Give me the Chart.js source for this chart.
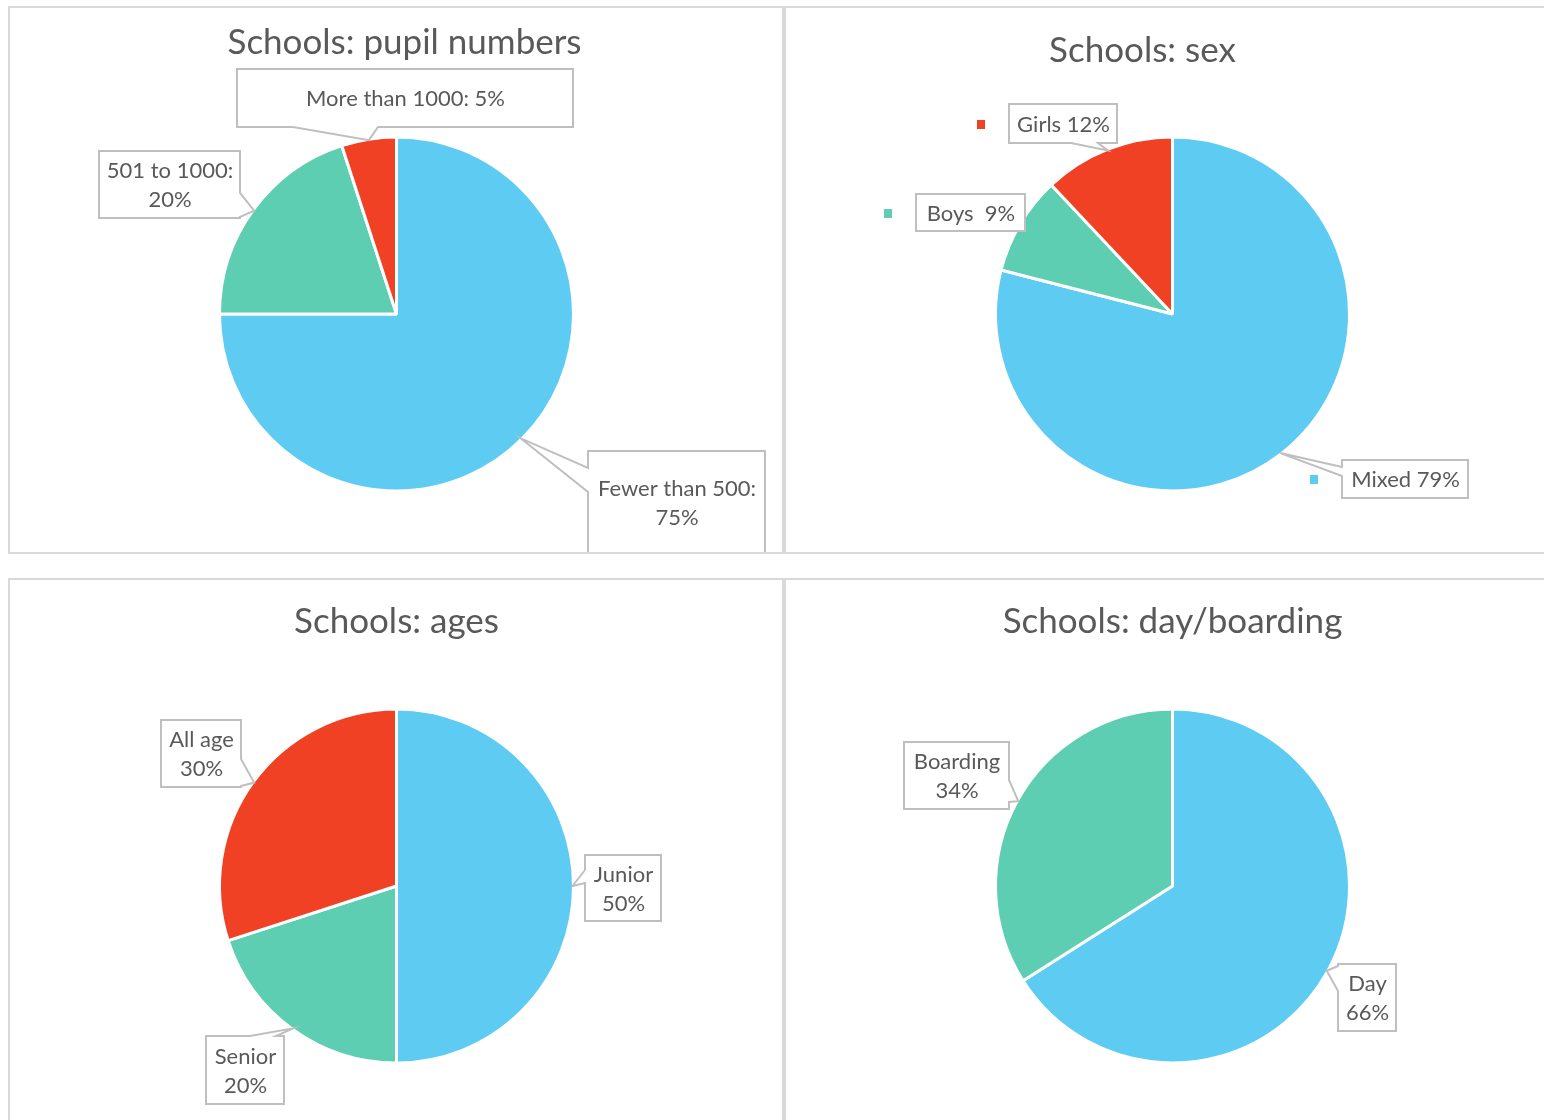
<!DOCTYPE html>
<html>
<head>
<meta charset="utf-8">
<script src="https://cdn.jsdelivr.net/npm/chart.js@4.4.1/dist/chart.umd.min.js"></script>
<style>
  html, body { margin: 0; padding: 0; background: #ffffff; width: 1544px; height: 1120px; overflow: hidden; }
  .panel { position: absolute; box-sizing: border-box; border: 2px solid #d9d9d9; background: #ffffff; }
  canvas { position: absolute; }
</style>
</head>
<body>
<div class="panel" style="left:8px;top:6px;width:776px;height:548px;"></div>
<div class="panel" style="left:784px;top:6px;width:780px;height:548px;"></div>
<div class="panel" style="left:8px;top:578px;width:776px;height:560px;"></div>
<div class="panel" style="left:784px;top:578px;width:780px;height:560px;"></div>
<canvas id="c1" width="773" height="544" style="left:10px;top:8px;"></canvas>
<canvas id="c2" width="773" height="544" style="left:786px;top:8px;"></canvas>
<canvas id="c3" width="773" height="544" style="left:10px;top:580px;"></canvas>
<canvas id="c4" width="773" height="544" style="left:786px;top:580px;"></canvas>
<script>
// ---------------- data ----------------
const titles = ["Schools: pupil numbers", "Schools: sex", "Schools: ages", "Schools: day/boarding"];

const pupilCategories = ["Fewer than 500", "501 to 1000", "More than 1000"];
const pupilValues = [75, 20, 5];

const sexCategories = ["Mixed", "Boys", "Girls"];
const sexValues = [79, 9, 12];

const agesCategories = ["Junior", "Senior", "All age"];
const agesValues = [50, 20, 30];

const boardingCategories = ["Day", "Boarding"];
const boardingValues = [66, 34];

// ---------------- styles ----------------
const sliceColors = ["#5ecbf3", "#5dceb2", "#f04125"];
const FONT = "Lato, 'Open Sans', sans-serif";
const TEXT_COLOR = "#595959";
const BOX_BORDER = "#bfbfbf";

// label text formats per chart
const fmtColonBreak = (c, v) => [c + ":", v + "%"];
const fmtColonInline = (c, v) => [c + ": " + v + "%"];
const fmtSpace = (c, v) => [c + " " + v + "%"];
const fmtDoubleSpace = (c, v) => [c + "  " + v + "%"];
const fmtBreak = (c, v) => [c, v + "%"];

// horizontal title shift per chart (px)
const titleShift = { c1: 8, c2: -30, c3: 0, c4: 0 };

// callout layout: box offset from pie centre, size, wedge edge and base positions
const calloutLayouts = {
  c1: [
    { fmt: fmtColonBreak, dx: 191, dy: 137, w: 177, h: 103, edge: "left", a: 17, b: 41 },
    { fmt: fmtColonBreak, dx: -298, dy: -163, w: 141, h: 67, edge: "right", a: 42, b: 66 },
    { fmt: fmtColonInline, dx: -160, dy: -245, w: 336, h: 58, edge: "bottom", a: 56, b: 141 }
  ],
  c2: [
    { fmt: fmtSpace, dx: 169, dy: 146, w: 126, h: 38, edge: "left", a: 7, b: 16, key: true },
    { fmt: fmtDoubleSpace, dx: -257, dy: -120, w: 109, h: 37, edge: null, key: true },
    { fmt: fmtSpace, dx: -164, dy: -210, w: 108, h: 39, edge: "bottom", a: 62, b: 89, key: true }
  ],
  c3: [
    { fmt: fmtBreak, dx: 188, dy: -31, w: 76, h: 66, edge: "left", a: 15, b: 28 },
    { fmt: fmtBreak, dx: -191, dy: 150, w: 78, h: 68, edge: "top", a: 44, b: 70 },
    { fmt: fmtBreak, dx: -236, dy: -166, w: 80, h: 67, edge: "right", a: 39, b: 66 }
  ],
  c4: [
    { fmt: fmtBreak, dx: 165, dy: 78, w: 58, h: 67, edge: "left", a: 2, b: 27 },
    { fmt: fmtBreak, dx: -269, dy: -144, w: 105, h: 67, edge: "right", a: 38, b: 60 }
  ]
};

// shift the Chart.js title block horizontally after layout
const titleShiftPlugin = {
  id: "titleShift",
  afterLayout(chart) {
    const d = titleShift[chart.canvas.id] || 0;
    if (chart.titleBlock && d) {
      chart.titleBlock.left += d;
      chart.titleBlock.right += d;
    }
  }
};

// ---------------- callout plugin ----------------
const calloutPlugin = {
  id: "callouts",
  afterDatasetsDraw(chart) {
    const layout = calloutLayouts[chart.canvas.id];
    const ctx = chart.ctx;
    const meta = chart.getDatasetMeta(0);
    const ds = chart.data.datasets[0];
    const total = ds.data.reduce((s, v) => s + v, 0);
    ctx.save();
    meta.data.forEach((arc, i) => {
      const L = layout[i];
      if (!L) return;
      const p = arc.getProps(["x", "y", "startAngle", "endAngle", "outerRadius"], true);
      const mid = (p.startAngle + p.endAngle) / 2;
      const tipX = p.x + (p.outerRadius - 1) * Math.cos(mid);
      const tipY = p.y + (p.outerRadius - 1) * Math.sin(mid);
      const left = Math.round(p.x + L.dx), top = Math.round(p.y + L.dy);
      const right = left + L.w, bottom = top + L.h;
      const tip = [tipX, tipY];
      let pts;
      if (L.edge === "top") pts = [[left, top], [left + L.a, top], tip, [left + L.b, top], [right, top], [right, bottom], [left, bottom]];
      else if (L.edge === "right") pts = [[left, top], [right, top], [right, top + L.a], tip, [right, top + L.b], [right, bottom], [left, bottom]];
      else if (L.edge === "bottom") pts = [[left, top], [right, top], [right, bottom], [left + L.b, bottom], tip, [left + L.a, bottom], [left, bottom]];
      else if (L.edge === "left") pts = [[left, top], [right, top], [right, bottom], [left, bottom], [left, top + L.b], tip, [left, top + L.a]];
      else pts = [[left, top], [right, top], [right, bottom], [left, bottom]];
      ctx.beginPath();
      pts.forEach((q, k) => k ? ctx.lineTo(q[0], q[1]) : ctx.moveTo(q[0], q[1]));
      ctx.closePath();
      ctx.fillStyle = "#ffffff";
      ctx.fill();
      ctx.lineWidth = 2;
      ctx.lineJoin = "miter";
      ctx.strokeStyle = BOX_BORDER;
      ctx.stroke();

      const pct = Math.round(ds.data[i] / total * 100);
      const lines = L.fmt(String(chart.data.labels[i]), pct);
      ctx.font = "22px " + FONT;
      ctx.fillStyle = TEXT_COLOR;
      ctx.textAlign = "center";
      ctx.textBaseline = "middle";
      const lh = 29;
      const cx = (left + right) / 2 + 0.5;
      const cy = (top + bottom) / 2 + 1;
      lines.forEach((t, k) => {
        ctx.fillText(t, cx, cy + (k - (lines.length - 1) / 2) * lh);
      });
      if (L.key) {
        ctx.fillStyle = sliceColors[i];
        ctx.fillRect(left - 32, Math.round(cy) - 5, 8, 9);
      }
    });
    ctx.restore();
  }
};

function makePie(id, title, cats, vals, titleTop, titleBottom) {
  return new Chart(document.getElementById(id), {
    type: "pie",
    data: {
      labels: cats,
      datasets: [{
        data: vals,
        backgroundColor: sliceColors.slice(0, vals.length),
        borderColor: "#ffffff",
        borderWidth: 3,
        hoverOffset: 0,
        offset: 0
      }]
    },
    options: {
      responsive: false,
      animation: false,
      devicePixelRatio: 1,
      events: [],
      layout: { padding: { top: 0, bottom: 59.5, left: 0, right: 0 } },
      plugins: {
        legend: { display: false },
        tooltip: { enabled: false },
        title: {
          display: true,
          text: title,
          color: TEXT_COLOR,
          font: { family: FONT, size: 35, weight: "normal", lineHeight: 1.2 },
          padding: { top: titleTop, bottom: titleBottom }
        }
      }
    },
    plugins: [titleShiftPlugin, calloutPlugin]
  });
}

makePie("c1", titles[0], pupilCategories, pupilValues, 14, 71.5);
makePie("c2", titles[1], sexCategories, sexValues, 22, 63.5);
makePie("c3", titles[2], agesCategories, agesValues, 21, 64.5);
makePie("c4", titles[3], boardingCategories, boardingValues, 21, 64.5);
</script>
</body>
</html>
